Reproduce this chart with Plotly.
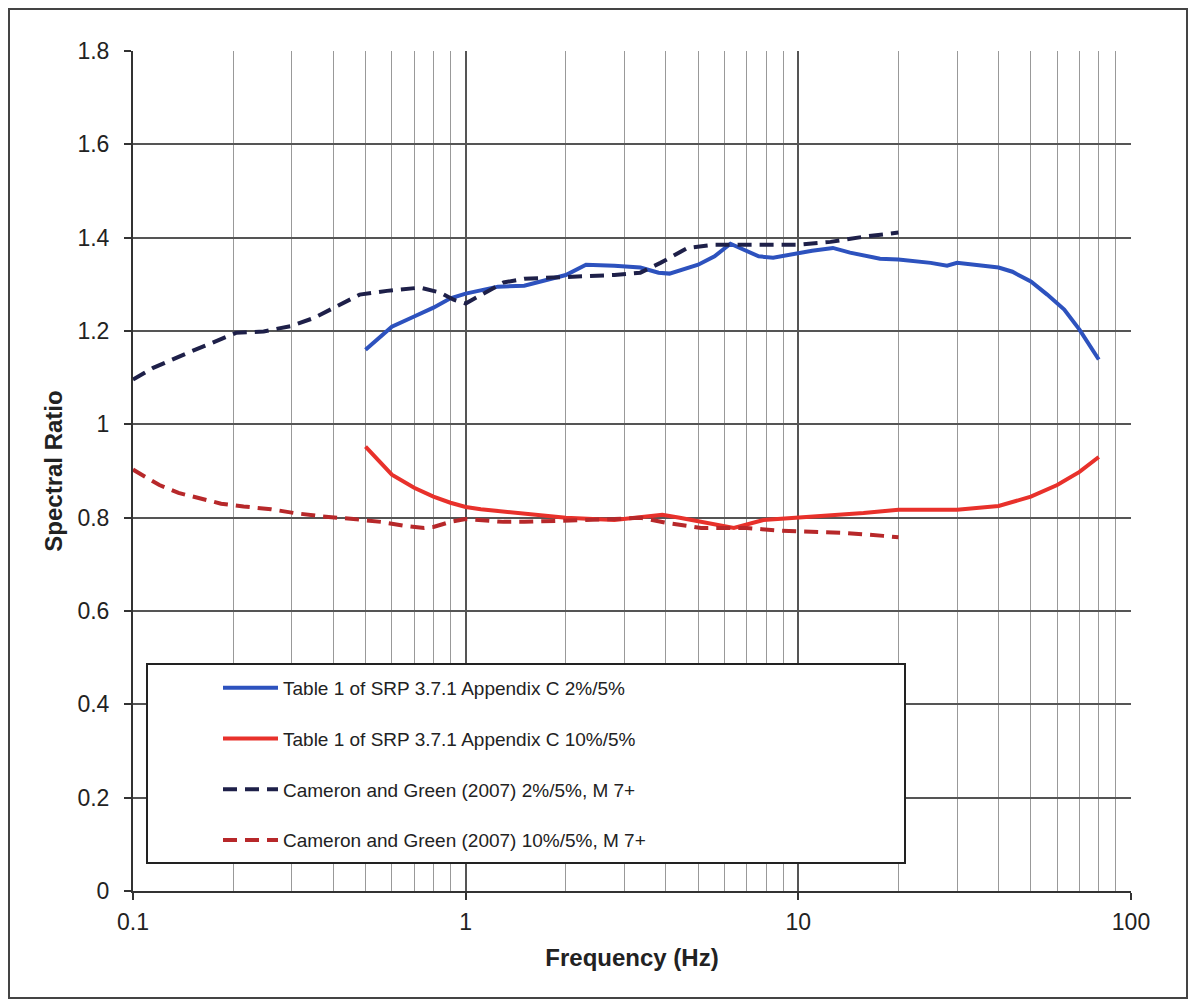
import plotly.graph_objects as go

# ---- data ----
srp2_f = [0.5, 0.6, 0.7, 0.8, 0.9, 1.0, 1.25, 1.5, 2.0, 2.3, 2.8, 3.35, 3.8, 4.1, 5.0, 5.6, 6.25, 7.0, 7.6, 8.4,
          10, 11, 12.7, 14.3, 17.6, 20, 25, 28, 30, 40, 44, 50, 56, 63, 70, 80]
srp2_v = [1.16, 1.209, 1.231, 1.25, 1.27, 1.28, 1.295, 1.297, 1.32, 1.342, 1.34, 1.336, 1.325, 1.323, 1.342, 1.36,
          1.387, 1.372, 1.36, 1.357, 1.368, 1.372, 1.378, 1.368, 1.355, 1.353, 1.346, 1.34, 1.346, 1.336, 1.327,
          1.306, 1.278, 1.246, 1.203, 1.139]

srp10_f = [0.5, 0.6, 0.7, 0.8, 0.9, 1.0, 1.11, 1.46, 2.0, 2.8, 3.35, 3.9, 4.4, 5.56, 6.4, 7.85, 10, 12.5, 15.7, 20,
           30, 40, 50, 60, 70, 80]
srp10_v = [0.952, 0.892, 0.864, 0.845, 0.832, 0.823, 0.818, 0.81, 0.8, 0.795, 0.8, 0.806, 0.8, 0.785, 0.778, 0.795,
           0.8, 0.806, 0.81, 0.817, 0.817, 0.825, 0.845, 0.87, 0.898, 0.93]

cg2_f = [0.1, 0.115, 0.146, 0.18, 0.204, 0.247, 0.3, 0.35, 0.4, 0.48, 0.58, 0.73, 0.84, 0.92, 1.0, 1.16, 1.3, 1.5,
         2.0, 2.8, 3.35, 3.85, 4.65, 5.56, 7, 10, 12.5, 15.7, 20]
cg2_v = [1.096, 1.121, 1.153, 1.18, 1.196, 1.199, 1.211, 1.228, 1.25, 1.278, 1.286, 1.293, 1.282, 1.267, 1.259,
         1.284, 1.304, 1.312, 1.316, 1.32, 1.325, 1.346, 1.378, 1.385, 1.385, 1.385, 1.391, 1.402, 1.411]

cg10_f = [0.1, 0.12, 0.137, 0.157, 0.184, 0.215, 0.26, 0.305, 0.367, 0.46, 0.556, 0.65, 0.75, 0.8, 0.9, 1.0, 1.3,
          1.5, 2.0, 2.8, 3.35, 4.0, 5.1, 7.0, 8.8, 11, 14, 18, 20]
cg10_v = [0.903, 0.87, 0.853, 0.842, 0.83, 0.824, 0.818, 0.81, 0.803, 0.797, 0.791, 0.783, 0.778, 0.78, 0.791,
          0.797, 0.791, 0.791, 0.793, 0.797, 0.8, 0.789, 0.778, 0.778, 0.772, 0.77, 0.767, 0.761, 0.758]

names = ["Table 1 of SRP 3.7.1 Appendix C 2%/5%",
         "Table 1 of SRP 3.7.1 Appendix C 10%/5%",
         "Cameron and Green (2007) 2%/5%, M 7+",
         "Cameron and Green (2007) 10%/5%, M 7+"]

x_major = [0.1, 1, 10, 100]
x_major_text = ["0.1", "1", "10", "100"]
x_minor = [m * d for d in (0.1, 1, 10) for m in range(2, 10)]
y_ticks = [0, 0.2, 0.4, 0.6, 0.8, 1.0, 1.2, 1.4, 1.6, 1.8]
y_text = ["0", "0.2", "0.4", "0.6", "0.8", "1", "1.2", "1.4", "1.6", "1.8"]

# page has an 8px body margin; figure sized to fit the window
OFF = 8
W, H = 1196 - 2 * OFF, 1008 - 2 * OFF
L, T = 133 - OFF, 51 - OFF
R = W - (1131 - OFF)
B = H - (891 - OFF)
pw, ph = W - L - R, H - T - B


def px_x(p):
    return (p - OFF - L) / pw


def px_y(p):
    return (H - B - (p - OFF)) / ph


fig = go.Figure()
series = [
    (srp2_f, srp2_v, "#2D52BE", "solid"),
    (srp10_f, srp10_v, "#E8312B", "solid"),
    (cg2_f, cg2_v, "#1E2049", "14px,8px"),
    (cg10_f, cg10_v, "#B7282A", "14px,8px"),
]
for i, (f, v, c, d) in enumerate(series):
    fig.add_trace(go.Scatter(x=f, y=v, mode="lines", name=names[i], legendgroup=f"g{i}",
                             line=dict(color=c, width=4, dash=d)))

fig.update_layout(
    width=W, height=H,
    margin=dict(l=L, r=R, t=T, b=B),
    paper_bgcolor="white", plot_bgcolor="white",
    font=dict(family="Liberation Sans, Arial, sans-serif", color="#222222", size=22),
    showlegend=True,
    legend=dict(x=px_x(218), y=px_y(669), xanchor="left", yanchor="top",
                bgcolor="rgba(0,0,0,0)", borderwidth=0, tracegroupgap=23, itemwidth=55,
                font=dict(family="Liberation Sans, Arial, sans-serif", size=19, color="#222222")),
    xaxis=dict(type="log", range=[-1, 2], tickvals=x_major, ticktext=x_major_text,
               ticks="outside", ticklen=7, tickwidth=2, tickcolor="#333333",
               showgrid=True, gridcolor="#555555", gridwidth=1.5,
               minor=dict(tickvals=x_minor, showgrid=True, gridcolor="#999999", gridwidth=1, ticks=""),
               showline=True, linecolor="#333333", linewidth=2, mirror=False,
               zeroline=False, tickfont=dict(size=23), ticklabelstandoff=2,
               title=dict(text="<b>Frequency (Hz)</b>", font=dict(size=24), standoff=16)),
    yaxis=dict(range=[0, 1.8], tickvals=y_ticks, ticktext=y_text,
               ticks="outside", ticklen=7, tickwidth=2, tickcolor="#333333",
               showgrid=True, gridcolor="#555555", gridwidth=1.5,
               showline=True, linecolor="#333333", linewidth=2, zeroline=False,
               tickfont=dict(size=23), ticklabelstandoff=10,
               title=dict(text="<b>Spectral Ratio</b>", font=dict(size=24), standoff=8)),
    shapes=[
        dict(type="rect", xref="paper", yref="paper", x0=px_x(147), x1=px_x(905), y0=px_y(863), y1=px_y(664),
             line=dict(color="#222222", width=2), fillcolor="white", layer="above"),
        dict(type="rect", xref="paper", yref="paper", x0=px_x(9), x1=px_x(1187), y0=px_y(998), y1=px_y(9),
             line=dict(color="#444444", width=2), fillcolor="rgba(0,0,0,0)", layer="below"),
    ],
)

fig.write_html("out.html")
